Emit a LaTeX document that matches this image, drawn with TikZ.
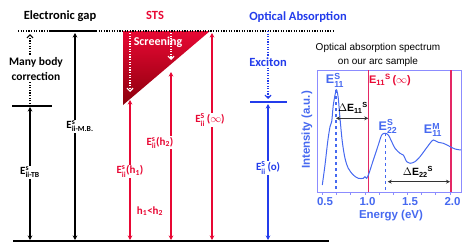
\documentclass[tikz,border=0pt]{standalone}
\usepackage{amsmath}
\usepackage{fontspec}
\setmainfont{Carlito}
\newfontfamily\plotfont{Liberation Sans}
\usetikzlibrary{arrows.meta, positioning, calc}
\definecolor{stsred}{RGB}{232,8,52}
\definecolor{darkred}{RGB}{140,0,12}
\definecolor{oablue}{RGB}{35,60,235}
\definecolor{plotblue}{RGB}{70,105,240}
\definecolor{boxblue}{RGB}{140,140,255}
\definecolor{vred}{RGB}{228,40,100}

% level label: E with stacked super/subscript
\newcommand{\En}[2]{E$^{\text{#1}}_{\text{#2}}$}

\begin{document}
\begin{tikzpicture}[
  x=1pt, y=-1pt,
  lvl/.style={line width=1.5pt},
  arr/.style={line width=1.3pt, {Stealth[length=4.5pt,width=4.5pt]}-{Stealth[length=4.5pt,width=4.5pt]}},
  dotarr/.style={line width=1.3pt, dash pattern=on 1.2pt off 1.4pt, -{Straight Barb[length=3pt,width=6pt,line width=1.2pt]}},
  dots/.style={line width=1.3pt, dash pattern=on 1.2pt off 1.4pt},
  lbl/.style={font=\bfseries\fontsize{11}{12}\selectfont, fill=white, inner sep=1pt},
  ttl/.style={font=\bfseries\fontsize{12.5}{14}\selectfont, inner sep=1pt},
  pl/.style={font=\plotfont\bfseries\fontsize{11.5}{13}\selectfont, inner sep=0pt},
  dE/.style={line width=1.2pt, black!80, {Stealth[length=4pt,width=4pt]}-{Stealth[length=4pt,width=4pt]}}
]
\useasboundingbox (0,0) rectangle (467,249);

% Level positions
\coordinate (topL) at (18,31);
\coordinate (topR) at (333,31);
\coordinate (baseL) at (13,241);
\coordinate (baseR) at (329,241);
\coordinate (tbL) at (12,106);
\coordinate (tbR) at (52,106);
\coordinate (mbL) at (50,31);
\coordinate (mbR) at (97,31);
\coordinate (exL) at (250,102);
\coordinate (exR) at (287,102);
\coordinate (triA) at (123,31);
\coordinate (triB) at (210,31);
\coordinate (triC) at (123,105);

% Column titles
\node[ttl] (gap) at (60,16) {Electronic gap};
\node[ttl, text=stsred] (sts) at (155,15) {STS};
\node[ttl, text=oablue] (oa) at (298,17) {Optical Absorption};

% Screening triangle
\shade[top color=stsred, bottom color=darkred] (triA) -- (triB) -- (triC) -- cycle;
\node[ttl, text=white, font=\bfseries\fontsize{12}{14}\selectfont] (scr) at (158,42) {Screening};

% Levels
\draw[dots] (topL) -- (topR);
\draw[lvl] (mbL) -- (mbR);
\draw[lvl] (tbL) -- (tbR);
\draw[lvl] (baseL) -- (baseR);
\draw[lvl, oablue] (exL) -- (exR);

% Electronic gap column
\coordinate (tbtop) at (30,107);
\coordinate (tbbot) at (30,240);
\coordinate (mbtop) at (75,33);
\coordinate (mbbot) at (75,240);
\coordinate (mcbot) at (30,104);
\coordinate (mctop) at (30,34);
\draw[dotarr] (mcbot) -- node[lbl, xshift=6pt, align=center, font=\bfseries\fontsize{11.5}{15}\selectfont]{Many body\\correction} (mctop);
\draw[arr] (tbtop) -- node[lbl, pos=0.49]{\En{s}{ii-TB}} (tbbot);
\draw[arr] (mbtop) -- node[lbl, pos=0.45, xshift=5pt]{\En{s}{ii-M.B.}} (mbbot);

% STS column
\coordinate (s1top) at (130,33);
\coordinate (s1end) at (130,92);
\coordinate (s2top) at (171,33);
\coordinate (s2end) at (171,60);
\coordinate (h1top) at (130,100);
\coordinate (h1bot) at (130,240);
\coordinate (h2top) at (171,72);
\coordinate (h2bot) at (171,240);
\coordinate (hitop) at (212,33);
\coordinate (hibot) at (212,240);
\draw[dotarr, white] (s1top) -- (s1end);
\draw[dotarr, white] (s2top) -- (s2end);
\draw[arr, stsred] (h1top) -- node[lbl, text=stsred, pos=0.51]{\En{s}{ii}(h\textsubscript{1})} (h1bot);
\draw[arr, stsred] (h2top) -- node[lbl, text=stsred, pos=0.42, xshift=-11pt]{\En{s}{ii}(h\textsubscript{2})} (h2bot);
\draw[arr, stsred] (hitop) -- node[lbl, text=stsred, pos=0.42, xshift=-2pt]{\En{S}{ii}\,($\infty$)} (hibot);
\node[lbl, text=stsred, fill=none] (hcmp) at (150,211) {h\textsubscript{1}<h\textsubscript{2}};

% Optical absorption column
\coordinate (oatop) at (268,31);
\coordinate (oaex) at (268,99);
\coordinate (extop) at (268,104);
\coordinate (exbot) at (268,240);
\draw[dotarr, oablue] (oatop) -- node[lbl, text=oablue, pos=0.46, font=\bfseries\fontsize{12.5}{14}\selectfont]{Exciton} (oaex);
\draw[arr, oablue] (extop) -- node[lbl, text=oablue, pos=0.47]{\En{S}{ii}\,(o)} (exbot);

% Inset spectrum
\node[font=\plotfont\fontsize{10}{13.5}\selectfont, align=center, inner sep=0pt] (ptitle) at (378,55) {Optical absorption spectrum\\on our arc sample};
\draw[boxblue, line width=1pt] (317,70) rectangle (461.5,192);
\foreach \t in {0,...,9} \draw[boxblue, line width=0.6pt] (322.3+\t*14.17,192) -- ++(0,2.5);
\draw[vred, line width=1.2pt] (368.3,70) -- (368.3,192);
\draw[vred, line width=1.2pt] (451,70) -- (451,192);
\draw[plotblue, line width=1.3pt, dashed] (336,90) -- (336,192);
\draw[plotblue, line width=1pt, dashed] (385.7,133) -- (385.7,192);
\draw[plotblue, line width=1pt] plot[smooth, tension=0.5] coordinates {
  (322.3,185) (325,165) (327.7,141.7) (330,126.7) (331.7,121.7) (333.3,105)
  (335.7,91.7) (336.7,90) (338.3,98.3) (340,118.3) (342.3,141.7) (345,158.3)
  (348.3,168.3) (353.3,175) (358.3,178.3) (363.3,178.3) (365,176.7) (366.7,178.3)
  (369,173.3) (371.7,165) (375,155) (378.3,145) (381.7,135) (385,133.3)
  (388.3,135) (391.7,141.7) (395,148.3) (400,153.3) (403.3,155) (406.7,161.7)
  (410,163.3) (415,161.7) (420,156.7) (425,150) (430,143.3) (433.3,140)
  (438.3,142.3) (443.3,143.3) (448.3,145.7) (455,149) (461,150)};

% Splittings
\coordinate (d1L) at (336,118.3);
\coordinate (d1R) at (368.3,118.3);
\coordinate (d2L) at (387.7,181.7);
\coordinate (d2R) at (450,181.7);
\draw[dE] (d1L) -- (d1R);
\draw[dE] (d2L) -- (d2R);
\node[pl, font=\plotfont\bfseries\fontsize{10.5}{12}\selectfont] (dE11) at (353,108) {$\Delta$E\textsubscript{11}\textsuperscript{S}};
\node[pl, font=\plotfont\bfseries\fontsize{10.5}{12}\selectfont] (dE22) at (418,172) {$\Delta$E\textsubscript{22}\textsuperscript{S}};

% Peak labels
\node[pl, text=plotblue, font=\plotfont\bfseries\fontsize{12.5}{14}\selectfont] (e11) at (335,80) {\En{S}{11}};
\node[pl, text=plotblue, font=\plotfont\bfseries\fontsize{12.5}{14}\selectfont] (e22) at (388,126.7) {\En{S}{22}};
\node[pl, text=plotblue, font=\plotfont\bfseries\fontsize{12.5}{14}\selectfont] (m11) at (433,130) {\En{M}{11}};
\node[pl, text=stsred, font=\plotfont\bfseries\fontsize{11}{13}\selectfont] (e11i) at (390,80) {E\textsubscript{11}\textsuperscript{S}\,($\infty$)};

% Axes labels
\foreach \v/\px in {0.5/325,1.0/367.5,1.5/410,2.0/452.5}
  \node[pl, text=plotblue] at (\px,202) {\v};
\node[pl, text=plotblue] (xlab) at (391,216) {Energy (eV)};
\node[pl, text=plotblue, rotate=90] (ylab) at (307,130) {Intensity (a.u.)};

\end{tikzpicture}
\end{document}
